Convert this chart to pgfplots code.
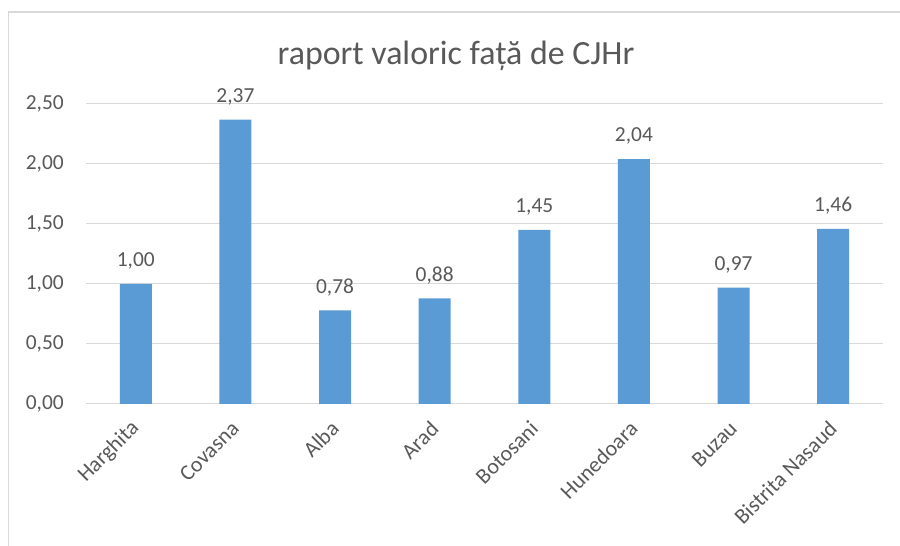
\documentclass[border=0pt]{standalone}
\usepackage{fontspec}
\setmainfont{Carlito}
\usepackage{pgfplots}
\pgfplotsset{compat=1.18}
\definecolor{barblue}{RGB}{91,155,213}
\definecolor{txtgray}{RGB}{89,89,89}
\definecolor{gridgray}{RGB}{217,217,217}
\begin{document}
\begin{tikzpicture}[x=1bp,y=1bp]
\path[use as bounding box] (0,0) rectangle (900,546);
\fill[white] (0,0) rectangle (900,546);
\draw[gridgray, line width=1.2bp] (8.5,0) -- (8.5,534) -- (900,534);
\node[txtgray, font=\fontsize{34}{40}\selectfont] at (456,490) {raport valoric față de CJHr};
\begin{axis}[
  at={(86bp,142bp)}, anchor=south west,
  scale only axis, width=797bp, height=300bp,
  xmin=-0.5, xmax=7.5, ymin=0, ymax=2.5,
  ytick={0,0.5,1,1.5,2,2.5},
  xtick={0,...,7},
  xticklabels={Harghita,Covasna,Alba,Arad,Botosani,Hunedoara,Buzau,Bistrita Nasaud},
  /pgf/number format/.cd, fixed, fixed zerofill, precision=2, use comma, assume math mode=true,
  /pgfplots/.cd,
  axis line style={draw=none},
  major tick length=0pt,
  ymajorgrids, grid style={gridgray, line width=1bp},
  tick label style={txtgray, font=\fontsize{21.5}{25}\selectfont},
  yticklabel style={anchor=east, inner sep=0pt, xshift=-22bp},
  xticklabel style={font=\fontsize{22}{26}\selectfont, xshift=0bp, yshift=-21bp, rotate=45, anchor=east, inner sep=0pt},
  ybar, bar width=32bp,
  nodes near coords,
  nodes near coords style={txtgray, font=\fontsize{21.5}{25}\selectfont, anchor=center, yshift=23bp},
]
\addplot[fill=barblue, draw=none] coordinates {(0,1.00) (1,2.37) (2,0.78) (3,0.88) (4,1.45) (5,2.04) (6,0.97) (7,1.46)};
\end{axis}
\end{tikzpicture}
\end{document}
